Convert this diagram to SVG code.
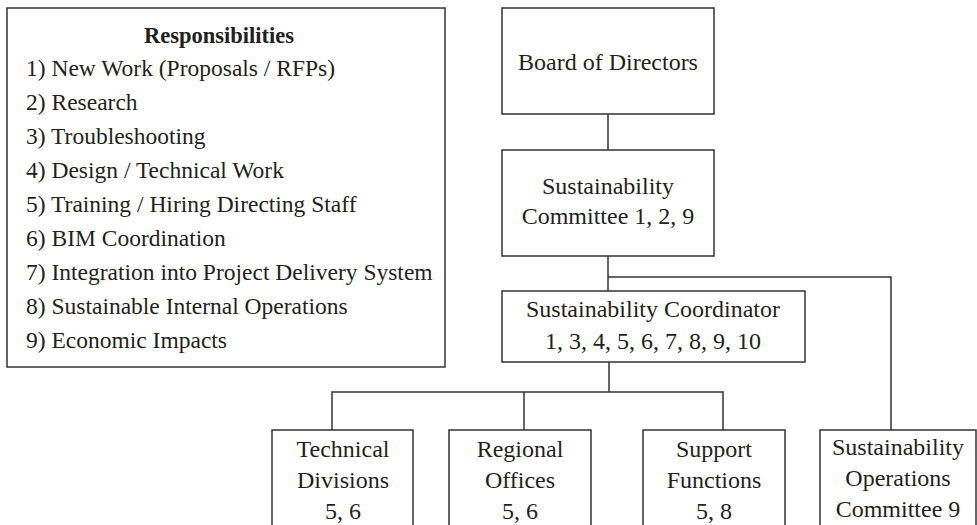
<svg xmlns="http://www.w3.org/2000/svg" width="977" height="525" viewBox="0 0 977 525">
<style>
.box{fill:#fff;stroke:#333;stroke-width:1.5}
.ln{fill:none;stroke:#333;stroke-width:1.5}
text{font-family:"Liberation Serif","Times New Roman",serif;fill:#231f20}
.t{font-size:24px;text-anchor:middle}
.l{font-size:23.5px}
.h{font-size:22.5px;font-weight:bold;text-anchor:middle}
</style>
<rect width="977" height="525" fill="#fff"/>
<g id="connectors">
<path class="ln" d="M608 114V150"/>
<path class="ln" d="M608 256V291"/>
<path class="ln" d="M608 277H891V430"/>
<path class="ln" d="M609 362V392"/>
<path class="ln" d="M332 430V392H723V430"/>
<path class="ln" d="M524 392V430"/>
</g>
<g id="responsibilities">
<rect class="box" x="7" y="8" width="438" height="359"/>
<text class="h" x="219" y="43">Responsibilities</text>
<text class="l" x="26" y="76">1) New Work (Proposals / RFPs)</text>
<text class="l" x="26" y="110">2) Research</text>
<text class="l" x="26" y="144">3) Troubleshooting</text>
<text class="l" x="26" y="178">4) Design / Technical Work</text>
<text class="l" x="26" y="212">5) Training / Hiring Directing Staff</text>
<text class="l" x="26" y="246">6) BIM Coordination</text>
<text class="l" x="26" y="280">7) Integration into Project Delivery System</text>
<text class="l" x="26" y="314">8) Sustainable Internal Operations</text>
<text class="l" x="26" y="348">9) Economic Impacts</text>
</g>
<g id="board">
<rect class="box" x="502" y="8" width="212" height="106"/>
<text class="t" x="608" y="70">Board of Directors</text>
</g>
<g id="committee">
<rect class="box" x="502" y="150" width="212" height="106"/>
<text class="t" x="608" y="194">Sustainability</text>
<text class="t" x="608" y="224">Committee 1, 2, 9</text>
</g>
<g id="coordinator">
<rect class="box" x="502" y="291" width="303" height="71"/>
<text class="t" x="653" y="317">Sustainability Coordinator</text>
<text class="t" x="653" y="349">1, 3, 4, 5, 6, 7, 8, 9, 10</text>
</g>
<g id="technical">
<rect class="box" x="272" y="430" width="141" height="110"/>
<text class="t" x="343" y="457">Technical</text>
<text class="t" x="343" y="488">Divisions</text>
<text class="t" x="343" y="519">5, 6</text>
</g>
<g id="regional">
<rect class="box" x="449" y="430" width="142" height="110"/>
<text class="t" x="520" y="457">Regional</text>
<text class="t" x="520" y="488">Offices</text>
<text class="t" x="520" y="519">5, 6</text>
</g>
<g id="support">
<rect class="box" x="643" y="430" width="142" height="110"/>
<text class="t" x="714" y="457">Support</text>
<text class="t" x="714" y="488">Functions</text>
<text class="t" x="714" y="519">5, 8</text>
</g>
<g id="operations">
<rect class="box" x="820" y="430" width="156" height="110"/>
<text class="t" x="898" y="455">Sustainability</text>
<text class="t" x="898" y="486">Operations</text>
<text class="t" x="898" y="517">Committee 9</text>
</g>
</svg>
